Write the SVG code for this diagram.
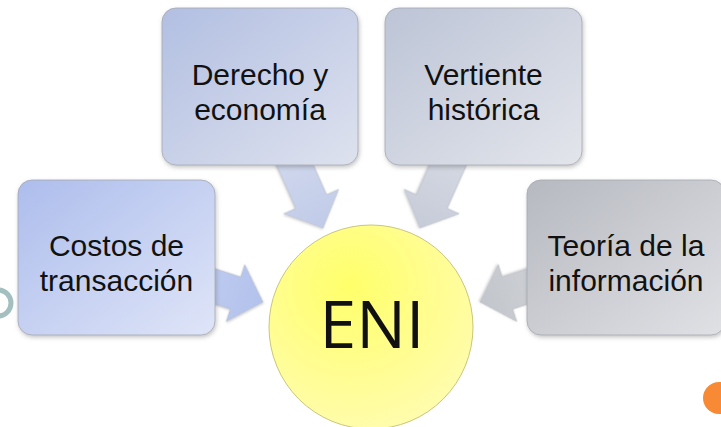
<svg xmlns="http://www.w3.org/2000/svg" width="721" height="427" viewBox="0 0 721 427">
<defs>
<style>
.box{stroke:#a4a8b0;stroke-width:0.8;filter:url(#sh)}
.lbl{font-family:"Liberation Sans",Arial,sans-serif;font-size:30px;fill:#111;text-anchor:middle}
.big{font-family:"Open Sans","Liberation Sans",sans-serif;font-size:66px;fill:#111;text-anchor:middle}
.arr{stroke:#b8bcc4;stroke-width:0.6;filter:url(#sh2)}
</style>
<filter id="sh" x="-10%" y="-10%" width="125%" height="125%"><feDropShadow dx="1" dy="2" stdDeviation="2" flood-color="#555" flood-opacity="0.35"/></filter>
<filter id="sh2" x="-20%" y="-20%" width="140%" height="140%"><feDropShadow dx="1" dy="1" stdDeviation="1.2" flood-color="#666" flood-opacity="0.3"/></filter>
<linearGradient id="g1" x1="0" y1="0" x2="1" y2="1"><stop offset="0" stop-color="#adbdec"/><stop offset="1" stop-color="#dfe5f8"/></linearGradient>
<linearGradient id="g2" x1="0" y1="0" x2="1" y2="1"><stop offset="0" stop-color="#b2bfe2"/><stop offset="1" stop-color="#dee2ee"/></linearGradient>
<linearGradient id="g3" x1="0" y1="0" x2="1" y2="1"><stop offset="0" stop-color="#bcc4d6"/><stop offset="1" stop-color="#e3e5eb"/></linearGradient>
<linearGradient id="g4" x1="0" y1="0" x2="1" y2="1"><stop offset="0" stop-color="#b6b9c0"/><stop offset="1" stop-color="#e0e1e5"/></linearGradient>
<linearGradient id="a1" x1="0" y1="0" x2="1" y2="0"><stop offset="0" stop-color="#c3cff2"/><stop offset="1" stop-color="#b3c2ec"/></linearGradient>
<linearGradient id="a2" x1="0" y1="0" x2="1" y2="0"><stop offset="0" stop-color="#d3daee"/><stop offset="1" stop-color="#c0cbe8"/></linearGradient>
<linearGradient id="a3" x1="0" y1="0" x2="1" y2="0"><stop offset="0" stop-color="#d7dbe5"/><stop offset="1" stop-color="#c6cbd8"/></linearGradient>
<linearGradient id="a4" x1="0" y1="0" x2="1" y2="0"><stop offset="0" stop-color="#d4d6db"/><stop offset="1" stop-color="#c2c5cb"/></linearGradient>
<radialGradient id="gc" cx="0.4" cy="0.3" r="0.8"><stop offset="0" stop-color="#ffff6a"/><stop offset="1" stop-color="#fffcb4"/></radialGradient>
<polygon id="arrow" points="-95,-17 -29,-17 -29,-30 0,0 -29,30 -29,17 -95,17"/>
</defs>
<rect width="721" height="427" fill="#ffffff"/>
<g id="decor">
<circle cx="-2" cy="303" r="13" fill="#ffffff" stroke="#a3bfc0" stroke-width="5"/>
<circle cx="719" cy="398" r="16" fill="#f98a35"/>
</g>
<g id="connectors">
<use href="#arrow" class="arr" fill="url(#a1)" transform="translate(263,302) rotate(18)"/>
<use href="#arrow" class="arr" fill="url(#a2)" transform="translate(323,228) rotate(66)"/>
<use href="#arrow" class="arr" fill="url(#a3)" transform="translate(420,228) rotate(114)"/>
<use href="#arrow" class="arr" fill="url(#a4)" transform="translate(480,302) rotate(162)"/>
</g>
<g id="node-costos">
<rect class="box" x="18" y="180" width="197" height="155" rx="14" fill="url(#g1)"/>
<text class="lbl" x="116.5" y="256">Costos de</text>
<text class="lbl" x="116.5" y="291">transacción</text>
</g>
<g id="node-derecho">
<rect class="box" x="162" y="8" width="196" height="157" rx="14" fill="url(#g2)"/>
<text class="lbl" x="260" y="85">Derecho y</text>
<text class="lbl" x="260" y="120">economía</text>
</g>
<g id="node-vertiente">
<rect class="box" x="385" y="8" width="197" height="157" rx="14" fill="url(#g3)"/>
<text class="lbl" x="483.5" y="85">Vertiente</text>
<text class="lbl" x="483.5" y="120">histórica</text>
</g>
<g id="node-teoria">
<rect class="box" x="527" y="180" width="198" height="155" rx="14" fill="url(#g4)"/>
<text class="lbl" x="626" y="256">Teoría de la</text>
<text class="lbl" x="626" y="291">información</text>
</g>
<g id="node-eni">
<circle cx="371" cy="327" r="102" fill="url(#gc)" stroke="#c9c77a" stroke-width="1"/>
<text class="big" x="372" y="348">ENI</text>
</g>
</svg>
